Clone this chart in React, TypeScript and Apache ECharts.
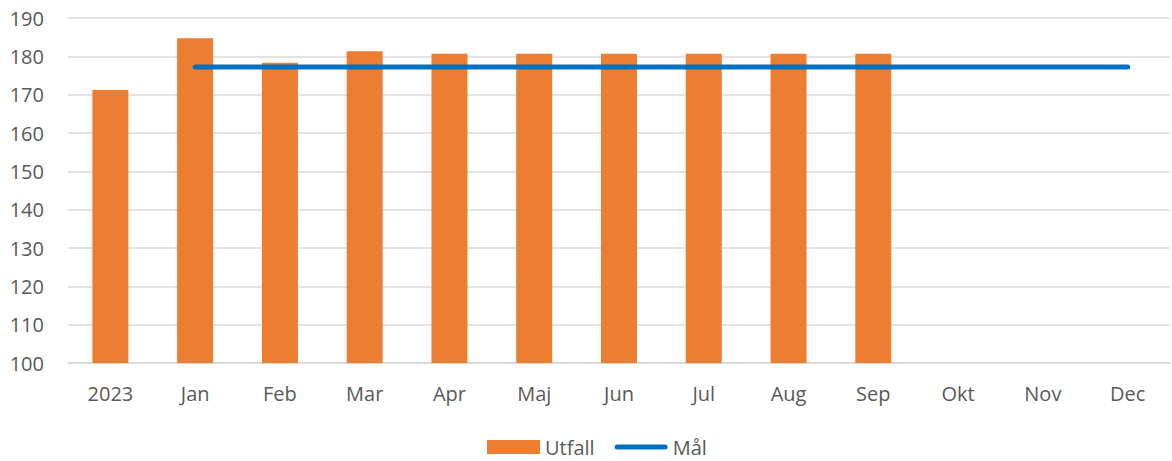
import React, { useEffect, useRef } from "react";
import * as echarts from "echarts";

const categories = ["2023", "Jan", "Feb", "Mar", "Apr", "Maj", "Jun", "Jul", "Aug", "Sep", "Okt", "Nov", "Dec"];
const utfall = [171.2, 184.7, 178.3, 181.3, 180.7, 180.7, 180.7, 180.7, 180.7, 180.7, null, null, null];
const mal = [null, 177.2, 177.2, 177.2, 177.2, 177.2, 177.2, 177.2, 177.2, 177.2, 177.2, 177.2, 177.2];

export default function App() {
  const ref = useRef<HTMLDivElement>(null);
  useEffect(() => {
    if (!ref.current) return;
    const chart = echarts.init(ref.current, null, { renderer: "svg" });
    const font = "'Open Sans', sans-serif";
    chart.setOption({
      animation: false,
      textStyle: { fontFamily: font },
      grid: { left: 68, right: 2, top: 18, bottom: 98, containLabel: false },
      legend: {
        left: 487,
        top: 434,
        padding: 0,
        itemWidth: 53,
        itemHeight: 14,
        itemGap: 20,
        textStyle: { fontSize: 20, color: "#595959", fontFamily: font, lineHeight: 26 },
        data: [
          { name: "Utfall", icon: "rect" },
          { name: "Mål", icon: "path://M2.5,0 L50.5,0 A2.5,2.5 0 0 1 50.5,5 L2.5,5 A2.5,2.5 0 0 1 2.5,0 Z", itemStyle: { color: "#0070C0" } },
        ],
      },
      xAxis: {
        type: "category",
        data: categories,
        axisTick: { show: false },
        axisLine: { lineStyle: { color: "#D9D9D9", width: 1.5 } },
        axisLabel: { fontSize: 20, color: "#595959", margin: 20, fontFamily: font },
      },
      yAxis: {
        type: "value",
        min: 100,
        max: 190,
        interval: 10,
        axisLine: { show: false },
        axisTick: { show: false },
        axisLabel: { fontSize: 20, color: "#595959", margin: 24, fontFamily: font },
        splitLine: { lineStyle: { color: "#D9D9D9", width: 1.5 } },
      },
      series: [
        {
          name: "Utfall",
          type: "bar",
          data: utfall,
          barWidth: 36,
          itemStyle: { color: "#ED7D31" },
        },
        {
          name: "Mål",
          type: "line",
          data: mal,
          symbol: "none",
          lineStyle: { color: "#0070C0", width: 5, cap: "round" },
          itemStyle: { color: "#0070C0" },
        },
      ],
    });
    return () => chart.dispose();
  }, []);
  return <div ref={ref} style={{ width: 1172, height: 461, position: "absolute", left: 0, top: 0 }} />;
}
